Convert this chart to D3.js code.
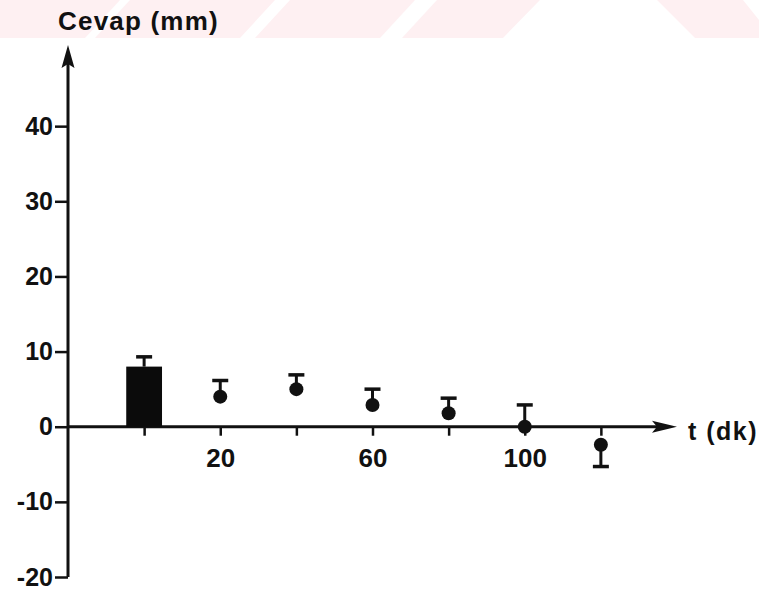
<!DOCTYPE html>
<html>
<head>
<meta charset="utf-8">
<script src="https://cdn.jsdelivr.net/npm/d3@7"></script>
<style>
  html, body { margin: 0; padding: 0; background: #fff; }
  text { font-family: "Liberation Sans", Arial, sans-serif; font-weight: bold; fill: #111; }
</style>
</head>
<body>
<div class="svg-container"></div>
<script>
// data
const barTime = 0;
const barValue = 8.0;
const barCap = 9.3;

const times = [20, 40, 60, 80, 100, 120];
const means = [4.0, 5.0, 2.9, 1.8, 0.0, -2.4];
const caps = [6.15, 6.9, 5.0, 3.8, 2.9, -5.3];

const xTicks = [0, 20, 40, 60, 80, 100, 120];
const xTickLabels = ["", "20", "", "60", "", "100", ""];
const yTicks = [-20, -10, 0, 10, 20, 30, 40];

const width = 759;
const height = 591;
const fontFamily = '"Liberation Sans", Arial, sans-serif';

const svg = d3
  .select(".svg-container")
  .append("svg")
  .attr("width", width)
  .attr("height", height);

// faint pink watermark band at the top of the scan
const pink = "#fef0f2";
svg.append("rect").attr("x", 0).attr("y", 0).attr("width", width).attr("height", 38).attr("fill", pink);
const gaps = [
  [[120, 0], [130, 0], [95, 38], [85, 38]],
  [[275, 0], [290, 0], [255, 38], [240, 38]],
  [[415, 0], [437, 0], [402, 38], [380, 38]],
  [[540, 0], [657, 0], [695, 38], [503, 38]],
  [[743, 0], [759, 0], [759, 20]],
];
svg
  .selectAll(".gap")
  .data(gaps)
  .enter()
  .append("polygon")
  .attr("points", (d) => d.map((p) => p.join(",")).join(" "))
  .attr("fill", "#fff");

// scales
const xScale = d3.scaleLinear().domain([-20, 140]).range([68, 677]);
const yScale = d3.scaleLinear().domain([-20, 50.8]).range([577, 45]);

const x0 = xScale(-20);
const y0 = yScale(0);

// y axis ticks and labels
svg
  .append("g")
  .attr("class", "y-axis")
  .attr("transform", `translate(${x0},0)`)
  .call(d3.axisLeft(yScale).tickValues(yTicks).tickSize(13).tickPadding(2).tickFormat(d3.format("d")))
  .call((g) => g.select(".domain").remove())
  .call((g) => g.selectAll(".tick line").attr("stroke", "#111").attr("stroke-width", 2.5))
  .call((g) =>
    g.selectAll(".tick text")
      .attr("font-size", 25)
      .attr("fill", "#111")
      .style("font-family", fontFamily)
      .style("font-weight", "bold")
      .text((d) => (d < 0 ? "-" + Math.abs(d) : d))
  );

// x axis ticks and labels
svg
  .append("g")
  .attr("class", "x-axis")
  .attr("transform", `translate(0,${y0})`)
  .call(
    d3.axisBottom(xScale)
      .tickValues(xTicks)
      .tickSize(9)
      .tickPadding(13)
      .tickFormat((d, i) => xTickLabels[i])
  )
  .call((g) => g.select(".domain").remove())
  .call((g) => g.selectAll(".tick line").attr("stroke", "#111").attr("stroke-width", 2.5))
  .call((g) =>
    g.selectAll(".tick text")
      .attr("font-size", 26)
      .attr("fill", "#111")
      .style("font-family", fontFamily)
      .style("font-weight", "bold")
  );

// y axis line with arrow
const yTop = yScale(50.8);
svg
  .append("line")
  .attr("x1", x0)
  .attr("x2", x0)
  .attr("y1", yScale(-20))
  .attr("y2", yTop + 15)
  .attr("stroke", "#111")
  .attr("stroke-width", 3);
svg
  .append("path")
  .attr("d", `M${x0},${yTop} L${x0 + 6.5},${yTop + 23} L${x0},${yTop + 19} L${x0 - 6.5},${yTop + 23} Z`)
  .attr("fill", "#111");

// x axis line with arrow
const xEnd = xScale(140);
svg
  .append("line")
  .attr("x1", x0)
  .attr("x2", xEnd - 15)
  .attr("y1", y0)
  .attr("y2", y0)
  .attr("stroke", "#111")
  .attr("stroke-width", 3);
svg
  .append("path")
  .attr("d", `M${xEnd},${y0} L${xEnd - 25},${y0 - 6} L${xEnd - 20},${y0} L${xEnd - 25},${y0 + 6} Z`)
  .attr("fill", "#111");

// axis titles
svg
  .append("text")
  .attr("x", 58)
  .attr("y", 30)
  .attr("font-size", 26)
  .attr("letter-spacing", 1.2)
  .text("Cevap (mm)");

svg
  .append("text")
  .attr("x", 688)
  .attr("y", 440)
  .attr("font-size", 25)
  .attr("letter-spacing", 1.5)
  .text("t (dk)");

// control bar at t = 0
const barHalf = 4.7;
svg
  .append("rect")
  .attr("x", xScale(barTime - barHalf))
  .attr("y", yScale(barValue))
  .attr("width", xScale(barTime + barHalf) - xScale(barTime - barHalf))
  .attr("height", yScale(0) - yScale(barValue))
  .attr("fill", "#0b0b0b");
svg
  .append("line")
  .attr("x1", xScale(barTime))
  .attr("x2", xScale(barTime))
  .attr("y1", yScale(barValue))
  .attr("y2", yScale(barCap))
  .attr("stroke", "#111")
  .attr("stroke-width", 3);
svg
  .append("line")
  .attr("x1", xScale(barTime) - 8)
  .attr("x2", xScale(barTime) + 8)
  .attr("y1", yScale(barCap))
  .attr("y2", yScale(barCap))
  .attr("stroke", "#111")
  .attr("stroke-width", 3.5);

// error bars (one sided)
const points = times.map((t, i) => ({ t: t, mean: means[i], cap: caps[i] }));

svg
  .selectAll(".err")
  .data(points)
  .enter()
  .append("line")
  .attr("class", "err")
  .attr("x1", (d) => xScale(d.t))
  .attr("x2", (d) => xScale(d.t))
  .attr("y1", (d) => yScale(d.mean))
  .attr("y2", (d) => yScale(d.cap))
  .attr("stroke", "#111")
  .attr("stroke-width", 3);

svg
  .selectAll(".cap")
  .data(points)
  .enter()
  .append("line")
  .attr("class", "cap")
  .attr("x1", (d) => xScale(d.t) - 8)
  .attr("x2", (d) => xScale(d.t) + 8)
  .attr("y1", (d) => yScale(d.cap))
  .attr("y2", (d) => yScale(d.cap))
  .attr("stroke", "#111")
  .attr("stroke-width", 3.5);

// mean dots
svg
  .selectAll(".dot")
  .data(points)
  .enter()
  .append("circle")
  .attr("class", "dot")
  .attr("cx", (d) => xScale(d.t))
  .attr("cy", (d) => yScale(d.mean))
  .attr("r", 7)
  .attr("fill", "#111");
</script>
</body>
</html>
